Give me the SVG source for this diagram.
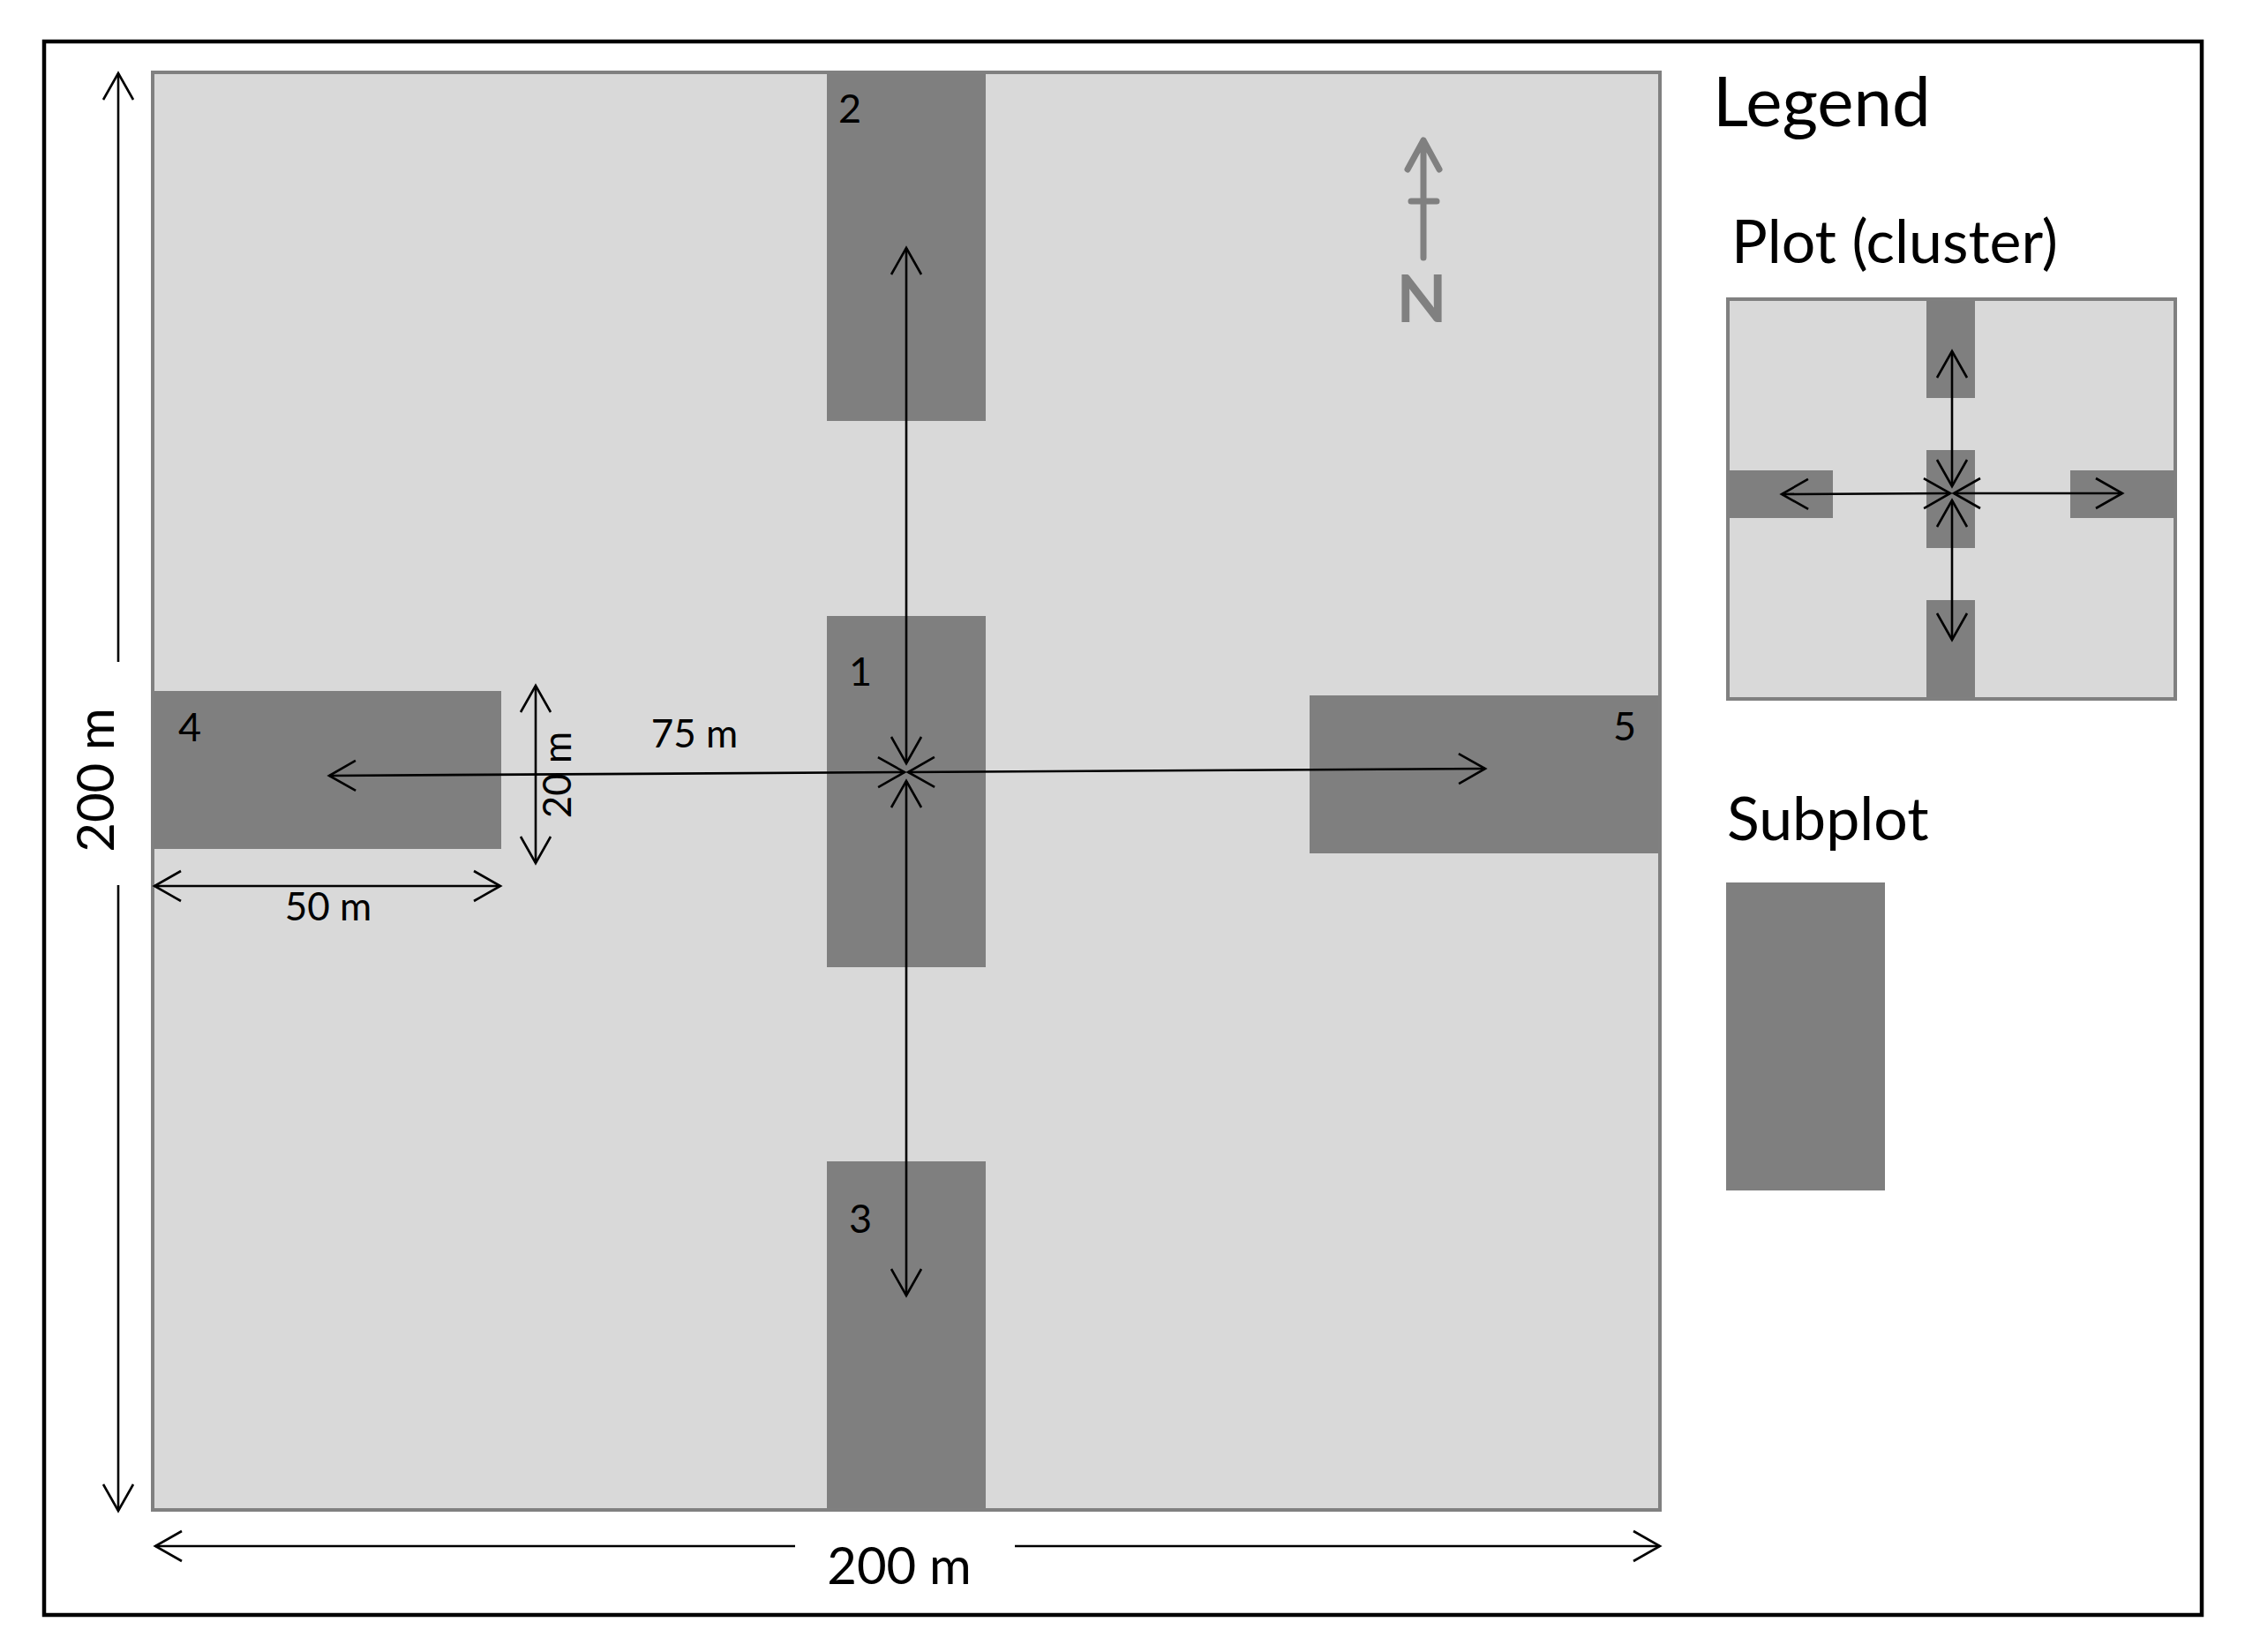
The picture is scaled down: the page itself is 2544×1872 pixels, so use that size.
<svg xmlns="http://www.w3.org/2000/svg" width="2544" height="1872" viewBox="0 0 2544 1872">
<style>
text{font-family:Lato,"Liberation Sans",sans-serif;fill:#000}
.plot{fill:#d9d9d9;stroke:#808080;stroke-width:4}
.sub{fill:#7f7f7f}
.ln{stroke:#000;stroke-width:2.6;fill:none}
.lbl{font-size:45px;text-anchor:middle}
.dim{font-size:44px;text-anchor:middle}
.big{font-size:58px;text-anchor:middle}
.leg{font-size:68px}
</style>
<defs>
<marker id="ah" markerUnits="userSpaceOnUse" viewBox="-36 -20 40 40" refX="0" refY="0" markerWidth="40" markerHeight="40" orient="auto-start-reverse" overflow="visible">
<path d="M-30,-17 L0,0 L-30,17" fill="none" stroke="#000" stroke-width="2.6"/>
</marker>
</defs>
<rect width="2544" height="1872" fill="#fff"/>
<rect id="frame" x="50" y="47" width="2445" height="1783" fill="none" stroke="#000" stroke-width="4.5"/>

<g id="plot">
<rect class="plot" x="173" y="82" width="1708" height="1629"/>
</g>
<g id="subplot-1"><rect class="sub" x="937" y="698" width="180" height="398"/><text class="lbl" x="975" y="777">1</text></g>
<g id="subplot-2"><rect class="sub" x="937" y="84" width="180" height="393"/><text class="lbl" x="963" y="139">2</text></g>
<g id="subplot-3"><rect class="sub" x="937" y="1316" width="180" height="393"/><text class="lbl" x="975" y="1397">3</text></g>
<g id="subplot-4"><rect class="sub" x="175" y="783" width="393" height="179"/><text class="lbl" x="215" y="840">4</text></g>
<g id="subplot-5"><rect class="sub" x="1484" y="788" width="395" height="179"/><text class="lbl" x="1841" y="839">5</text></g>

<g id="north">
<path d="M1613,292 L1613,159 M1595,192 L1613,159 L1631,192 M1599,228 L1628,228" fill="none" stroke="#808080" stroke-width="7" stroke-linecap="round" stroke-linejoin="round"/>
<text x="1611" y="365" font-size="74" font-weight="bold" text-anchor="middle" style="fill:#808080">N</text>
</g>

<g id="connectors">
<line class="ln" x1="1027" y1="865" x2="1027" y2="281" marker-start="url(#ah)" marker-end="url(#ah)"/>
<line class="ln" x1="1027" y1="885" x2="1027" y2="1468" marker-start="url(#ah)" marker-end="url(#ah)"/>
<line class="ln" x1="1025" y1="875" x2="373" y2="879" marker-start="url(#ah)" marker-end="url(#ah)"/>
<line class="ln" x1="1029" y1="875" x2="1683" y2="871" marker-start="url(#ah)" marker-end="url(#ah)"/>
<line class="ln" x1="607" y1="777" x2="607" y2="978" marker-start="url(#ah)" marker-end="url(#ah)"/>
<line class="ln" x1="175" y1="1004" x2="567" y2="1004" marker-start="url(#ah)" marker-end="url(#ah)"/>
<line class="ln" x1="134" y1="750" x2="134" y2="83" marker-end="url(#ah)"/>
<line class="ln" x1="134" y1="1003" x2="134" y2="1712" marker-end="url(#ah)"/>
<line class="ln" x1="901" y1="1752" x2="176" y2="1752" marker-end="url(#ah)"/>
<line class="ln" x1="1150" y1="1752" x2="1881" y2="1752" marker-end="url(#ah)"/>
</g>

<g id="dimensions">
<text class="dim" x="787" y="847">75 m</text>
<text class="dim" x="372" y="1043">50 m</text>
<text class="dim" transform="translate(647,878) rotate(-90)">20 m</text>
<text class="big" x="1019" y="1795">200 m</text>
<text class="big" transform="translate(129,884) rotate(-90)">200 m</text>
</g>

<g id="legend">
<text x="1941" y="143" font-size="78">Legend</text>
<text class="leg" x="1962" y="298">Plot (cluster)</text>
<g id="legend-plot">
<rect class="plot" x="1958" y="339" width="507" height="453"/>
<rect class="sub" x="2183" y="341" width="55" height="110"/>
<rect class="sub" x="2183" y="510" width="55" height="111"/>
<rect class="sub" x="2183" y="680" width="55" height="110"/>
<rect class="sub" x="1960" y="533" width="117" height="54"/>
<rect class="sub" x="2346" y="533" width="117" height="54"/>
<line class="ln" x1="2212" y1="551" x2="2212" y2="398" marker-start="url(#ah)" marker-end="url(#ah)"/>
<line class="ln" x1="2212" y1="567" x2="2212" y2="725" marker-start="url(#ah)" marker-end="url(#ah)"/>
<line class="ln" x1="2210" y1="559" x2="2019" y2="560" marker-start="url(#ah)" marker-end="url(#ah)"/>
<line class="ln" x1="2214" y1="559" x2="2405" y2="559" marker-start="url(#ah)" marker-end="url(#ah)"/>
</g>
<text class="leg" x="1957" y="952">Subplot</text>
<rect id="legend-subplot" class="sub" x="1956" y="1000" width="180" height="349"/>
</g>
</svg>
